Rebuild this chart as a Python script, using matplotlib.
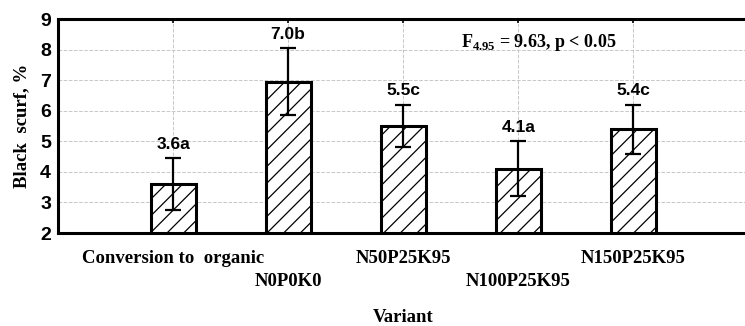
import matplotlib.pyplot as plt

variants = ["Conversion to  organic", "N0P0K0", "N50P25K95", "N100P25K95", "N150P25K95"]
means = [3.6, 6.95, 5.5, 4.1, 5.4]
errors = [0.84, 1.1, 0.7, 0.9, 0.8]
labels = ["3.6a", "7.0b", "5.5c", "4.1a", "5.4c"]

plt.rcParams['hatch.linewidth'] = 0.9
plt.rcParams['hatch.color'] = '#444444'
plt.rcParams['mathtext.fontset'] = 'custom'
plt.rcParams['mathtext.bf'] = 'Liberation Serif:bold'
plt.rcParams['mathtext.rm'] = 'Liberation Serif:bold'

fig = plt.figure(figsize=(7.45, 3.26), dpi=100)
ax = fig.add_axes([58 / 745, 1 - 233 / 326, (745 - 58) / 745, (233 - 19) / 326])

xs = list(range(len(variants)))
ax.bar(xs, [m - 2 for m in means], bottom=2, width=0.39, color='white',
       edgecolor='black', linewidth=2.2, hatch='//', zorder=3)
ax.errorbar(xs, means, yerr=errors, fmt='none', ecolor='black', elinewidth=1.6,
            capsize=6, capthick=1.6, zorder=4)

for x, m, e, lab in zip(xs, means, errors, labels):
    ax.text(x, m + e + 0.2, lab, ha='center', va='bottom', fontsize=12.5,
            fontweight='bold', family='Liberation Sans')

ax.text(0.70, 0.89, r"F$_{\mathbf{4.95}}$ = 9.63, p < 0.05", transform=ax.transAxes,
        ha='center', va='center', fontsize=13, fontweight='bold', family='Liberation Serif')

ax.set_xlim(-1, 4.97)
ax.set_ylim(2, 9)
ax.set_yticks(range(2, 10))
ax.set_xticks(xs)
ax.set_xticklabels([])
for x, v in zip(xs, variants):
    dy = 0.12 if x % 2 == 0 else 0.225
    ax.text(x, -dy, v, transform=ax.get_xaxis_transform(), ha='center', va='center',
            fontsize=13.5, fontweight='bold', family='Liberation Serif')

ax.grid(True, color='#c8c8c8', linestyle='--', linewidth=0.7, zorder=0)
ax.set_axisbelow(True)
ax.tick_params(axis='y', labelsize=14, length=0, pad=5)
for t in ax.get_yticklabels():
    t.set_fontweight('bold')
    t.set_family('Liberation Sans')
ax.tick_params(axis='x', direction='in', top=True, length=3, width=1.2)

for s in ['left', 'bottom', 'top']:
    ax.spines[s].set_linewidth(2.2)
ax.spines['right'].set_visible(False)

ax.set_ylabel("Black  scurf, %", fontsize=13.5, fontweight='bold', family='Liberation Serif', labelpad=7)
fig.text(403 / 745, 1 - 318 / 326, "Variant", ha='center', va='center', fontsize=13.5,
         fontweight='bold', family='Liberation Serif')

fig.savefig("out.png", dpi=100)
